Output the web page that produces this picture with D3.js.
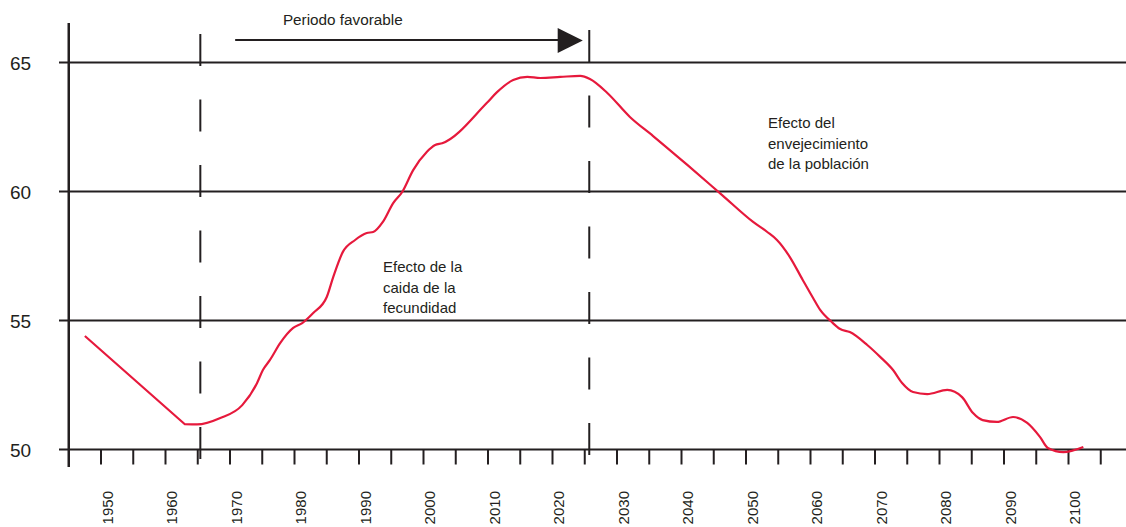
<!DOCTYPE html>
<html>
<head>
<meta charset="utf-8">
<script src="https://cdn.jsdelivr.net/npm/d3@7"></script>
<style>
  body { margin: 0; background: #fff; }
  svg text { font-family: Arial, "Liberation Sans", sans-serif; fill: #231f20; }
</style>
</head>
<body>
<svg id="chart" width="1126" height="527"></svg>
<script>
// curve: year, value
const years = [1947.5, 1963.0, 1964.9, 1968.5, 1971.9, 1974.2, 1975.1, 1976.2, 1977.8, 1979.8,
  1981.2, 1982.9, 1985.0, 1986.0, 1987.5, 1989.4, 1991.2, 1992.2, 1993.7, 1995.3,
  1996.7, 1998.4, 2000.5, 2001.8, 2002.9, 2009.8, 2011.4, 2013.9, 2016.1, 2018.1,
  2021.2, 2024.3, 2025.8, 2028.5, 2032.0, 2035.6, 2040.9, 2046.3, 2051.1, 2053.3,
  2054.8, 2056.8, 2058.8, 2060.4, 2061.5, 2063.3, 2064.6, 2066.1, 2068.8, 2070.8,
  2072.8, 2074.2, 2075.9, 2078.1, 2081.2, 2083.5, 2085.2, 2086.7, 2088.9, 2091.4,
  2093.6, 2095.6, 2096.8, 2099.2, 2102.3];
const values = [54.40, 50.98, 50.97, 51.22, 51.72, 52.58, 53.08, 53.47, 54.13, 54.71,
  54.90, 55.29, 55.91, 56.68, 57.66, 58.12, 58.39, 58.43, 58.82, 59.55,
  59.98, 60.83, 61.53, 61.80, 61.87, 63.43, 63.85, 64.32, 64.44, 64.40,
  64.44, 64.48, 64.36, 63.82, 62.89, 62.15, 61.03, 59.86, 58.82, 58.43,
  58.12, 57.46, 56.57, 55.87, 55.41, 54.94, 54.67, 54.55, 54.05, 53.59,
  53.08, 52.58, 52.23, 52.15, 52.31, 52.03, 51.41, 51.14, 51.07, 51.26,
  51.03, 50.48, 50.06, 49.90, 50.10];

const yTicks = [50, 55, 60, 65];
const xTickYears = d3.range(1950, 2106, 5);
const xLabelYears = d3.range(1950, 2101, 10);
const dashedYears = [1965.4, 2025.7];

const periodLabel = "Periodo favorable";
const fertilityLabel = ["Efecto de la", "caida de la", "fecundidad"];
const agingLabel = ["Efecto del", "envejecimiento", "de la población"];

const ink = "#231f20", red = "#e6193c";
const svg = d3.select("#chart");

const x = d3.scaleLinear().domain([1950, 2100]).range([101, 1068.5]);
const y = d3.scaleLinear().domain([50, 65]).range([449.5, 62.5]);

// horizontal grid lines
svg.append("g").selectAll("line")
  .data(yTicks).enter().append("line")
  .attr("x1", 59).attr("x2", 1126)
  .attr("y1", d => y(d)).attr("y2", d => y(d))
  .attr("stroke", ink).attr("stroke-width", 2);

svg.append("g").selectAll("text")
  .data(yTicks).enter().append("text")
  .attr("x", 10).attr("y", d => y(d) + 7)
  .style("font-size", "19px")
  .text(d => d);

// y axis line
svg.append("line")
  .attr("x1", x(1945)).attr("x2", x(1945))
  .attr("y1", 23).attr("y2", 467)
  .attr("stroke", ink).attr("stroke-width", 2.5);

// x ticks
svg.append("g").selectAll("line")
  .data(xTickYears).enter().append("line")
  .attr("x1", d => x(d)).attr("x2", d => x(d))
  .attr("y1", y(50)).attr("y2", y(50) + 15)
  .attr("stroke", ink).attr("stroke-width", 2);

svg.append("g").selectAll("text")
  .data(xLabelYears).enter().append("text")
  .attr("transform", d => "translate(" + (x(d) + 11.5) + ",491) rotate(-90)")
  .attr("text-anchor", "end")
  .style("font-size", "15px")
  .text(d => d);

// dashed verticals
svg.append("g").selectAll("line")
  .data(dashedYears).enter().append("line")
  .attr("x1", d => x(d)).attr("x2", d => x(d))
  .attr("y1", (d, i) => i === 0 ? 34 : 30).attr("y2", 464)
  .attr("stroke", ink).attr("stroke-width", 2)
  .attr("stroke-dasharray", "32,33.5");

// arrow
svg.append("line")
  .attr("x1", x(1970.8)).attr("x2", x(2021))
  .attr("y1", 40).attr("y2", 40)
  .attr("stroke", ink).attr("stroke-width", 2);
svg.append("path")
  .attr("d", "M" + x(2020.8) + ",28L" + x(2024.7) + ",40.5L" + x(2020.8) + ",53Z")
  .attr("fill", ink);
svg.append("text")
  .attr("x", x(1978.2)).attr("y", 25)
  .style("font-size", "15.3px")
  .text(periodLabel);

// annotations
svg.append("text").style("font-size", "15px")
  .selectAll("tspan").data(fertilityLabel).enter().append("tspan")
  .attr("x", 383).attr("y", (d, i) => 272 + i * 20.7)
  .text(d => d);
svg.append("text").style("font-size", "15px")
  .selectAll("tspan").data(agingLabel).enter().append("tspan")
  .attr("x", 768).attr("y", (d, i) => 128 + i * 20.7)
  .text(d => d);

// red curve: first stretch is a straight segment, the rest is smoothed
const straight = d3.line()
  .x(i => x(years[i]))
  .y(i => y(values[i]));
const smooth = d3.line()
  .x(i => x(years[i]))
  .y(i => y(values[i]))
  .curve(d3.curveMonotoneX);

svg.append("path")
  .attr("d", straight([0, 1]) + smooth(d3.range(1, values.length)).replace(/^M[^CL]*/, ""))
  .attr("fill", "none")
  .attr("stroke", red)
  .attr("stroke-width", 2.2)
  .attr("stroke-linejoin", "round");
</script>
</body>
</html>
